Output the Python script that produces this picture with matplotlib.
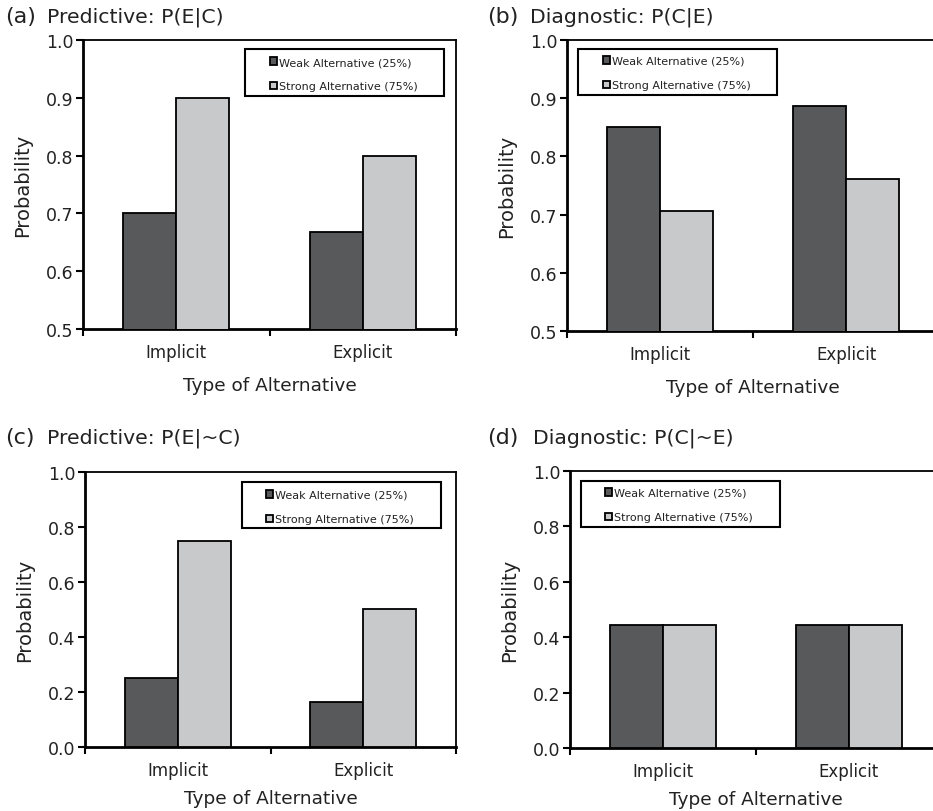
import numpy as np
import matplotlib
matplotlib.use('Agg')
import matplotlib.pyplot as plt
from matplotlib.patches import Rectangle
from matplotlib.ticker import FormatStrFormatter

# Data
categories = ['Implicit', 'Explicit']
series_names = ['Weak Alternative (25%)', 'Strong Alternative (75%)']

weak_a = [0.70, 0.667]
strong_a = [0.90, 0.80]
weak_b = [0.85, 0.887]
strong_b = [0.707, 0.762]
weak_c = [0.25, 0.165]
strong_c = [0.75, 0.503]
weak_d = [0.444, 0.444]
strong_d = [0.444, 0.444]

dark = '#58595b'
light = '#c8c9cb'

W, H = 933, 812
plt.rcParams['font.family'] = 'DejaVu Sans'
fig = plt.figure(figsize=(W / 100, H / 100), dpi=100)


def px_axes(left, top, right, bottom):
    return fig.add_axes([left / W, 1 - bottom / H, (right - left) / W, (bottom - top) / H])


def draw_panel(ax, weak, strong, ylim, step, tick_pad, label_pad):
    x = np.arange(len(categories))
    w = 0.285
    b1 = ax.bar(x - w / 2, weak, w, color=dark, edgecolor='black', linewidth=1.3, zorder=3)
    b2 = ax.bar(x + w / 2, strong, w, color=light, edgecolor='black', linewidth=1.3, zorder=3)
    ax.set_xlim(-0.5, 1.5)
    ax.set_ylim(*ylim)
    ax.set_yticks(np.arange(ylim[0], ylim[1] + step / 2, step))
    ax.yaxis.set_major_formatter(FormatStrFormatter('%.1f'))
    ax.set_xticks([-0.5, 0.5, 1.5])
    ax.set_xticklabels([])
    ax.set_xticks(x, minor=True)
    ax.set_xticklabels(categories, minor=True)
    ax.tick_params(axis='x', which='minor', length=0, pad=tick_pad, labelsize=12, labelcolor='#222222')
    ax.tick_params(axis='x', which='major', length=5, width=1.5, direction='out')
    ax.tick_params(axis='y', length=5, width=1.5, direction='out', labelsize=12.5,
                   pad=2, labelcolor='#222222')
    ax.spines['left'].set_linewidth(2)
    ax.spines['bottom'].set_linewidth(2)
    ax.spines['top'].set_linewidth(1.3)
    ax.spines['right'].set_linewidth(1.3)
    ax.set_ylabel('Probability', fontsize=14, labelpad=10, color='#222222')
    ax.set_xlabel('Type of Alternative', fontsize=13.3, labelpad=label_pad, color='#222222')
    return b1, b2


def draw_legend(handles, box, hx, row1):
    l, t, r, b = box
    fig.add_artist(Rectangle((l / W, 1 - b / H), (r - l) / W, (b - t) / H,
                             transform=fig.transFigure, facecolor='white',
                             edgecolor='black', linewidth=1.5, zorder=4))
    fig.legend(handles, series_names, loc='upper left',
               bbox_to_anchor=(hx / W, 1 - (row1 - 5) / H),
               bbox_transform=fig.transFigure, frameon=False, fontsize=8,
               handlelength=0.65, handleheight=0.65, handletextpad=0.15,
               borderpad=0, borderaxespad=0, labelspacing=1.3,
               labelcolor='#222222').set_zorder(6)


ax_a = px_axes(83, 41, 456, 330)
h = draw_panel(ax_a, weak_a, strong_a, (0.5, 1.0), 0.1, 10, 11)
draw_legend(h, (245, 50, 444, 97), 270, 63)

ax_b = px_axes(567, 41, 939, 332)
h = draw_panel(ax_b, weak_b, strong_b, (0.5, 1.0), 0.1, 10, 11)
draw_legend(h, (578, 50, 777, 96), 603, 62)

ax_c = px_axes(85, 473, 456, 748)
h = draw_panel(ax_c, weak_c, strong_c, (0.0, 1.0), 0.2, 10, 7)
draw_legend(h, (242, 483, 441, 529), 266, 496)

ax_d = px_axes(570, 472, 942, 749)
h = draw_panel(ax_d, weak_d, strong_d, (0.0, 1.0), 0.2, 10, 7)
draw_legend(h, (581, 482, 780, 528), 605, 494)

# Panel titles
titles = [
    (5, 17, '(a)', 47, 'Predictive: P(E|C)'),
    (487, 17, '(b)', 530, 'Diagnostic: P(C|E)'),
    (5, 438, '(c)', 47, 'Predictive: P(E|~C)'),
    (487, 438, '(d)', 533, 'Diagnostic: P(C|~E)'),
]
for lx, ly, letter, tx, text in titles:
    fig.text(lx / W, 1 - ly / H, letter, fontsize=16, va='center', ha='left', color='#222222')
    fig.text(tx / W, 1 - ly / H, text, fontsize=14.7, va='center', ha='left', color='#222222')

fig.savefig('out.png', dpi=100)
